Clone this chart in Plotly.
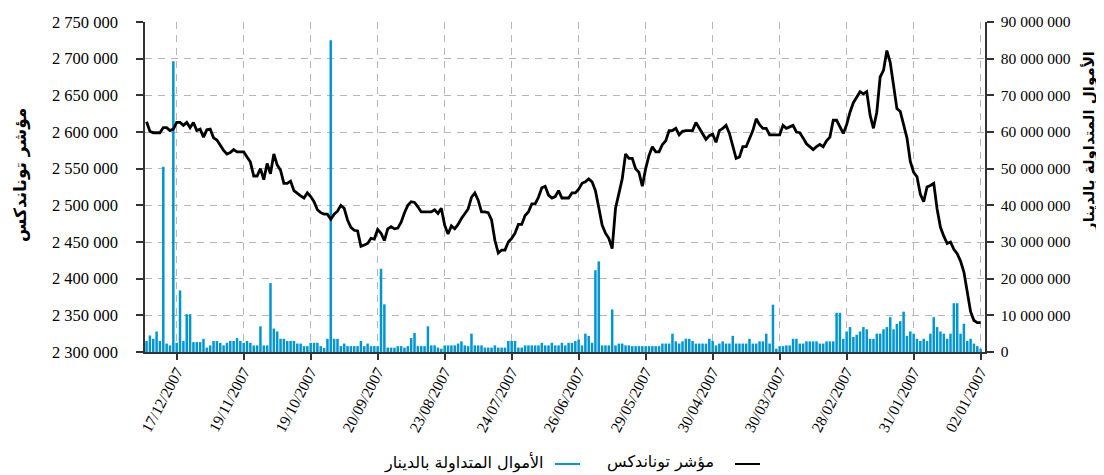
import plotly.graph_objects as go

# ---------------- data (left = most recent trading day, right = 02/01/2007) ----------------
tick_labels = ["17/12/2007", "19/11/2007", "19/10/2007", "20/09/2007", "23/08/2007", "24/07/2007",
               "26/06/2007", "29/05/2007", "30/04/2007", "30/03/2007", "28/02/2007", "31/01/2007",
               "02/01/2007"]

# TUNINDEX level, thousands
index_k = [
    2614, 2601, 2599, 2599, 2599, 2606, 2606, 2602, 2604, 2613,
    2613, 2609, 2613, 2606, 2613, 2602, 2604, 2593, 2603, 2604,
    2592, 2589, 2582, 2575, 2570, 2572, 2576, 2573, 2573, 2573,
    2566, 2559, 2540, 2540, 2550, 2535, 2557, 2543, 2570, 2555,
    2548, 2530, 2530, 2533, 2520, 2516, 2513, 2510, 2517, 2512,
    2505, 2494, 2490, 2488, 2488, 2481, 2488, 2492, 2500, 2496,
    2480, 2470, 2466, 2465, 2444, 2446, 2448, 2455, 2454, 2467,
    2462, 2452, 2468, 2471, 2468, 2469, 2477, 2490, 2500, 2505,
    2504, 2498, 2491, 2491, 2491, 2491, 2494, 2489, 2496, 2473,
    2461, 2472, 2468, 2474, 2482, 2489, 2495, 2511, 2517, 2507,
    2491, 2491, 2490, 2480, 2452, 2435, 2439, 2439, 2450, 2455,
    2462, 2474, 2474, 2486, 2491, 2502, 2502, 2511, 2524, 2526,
    2514, 2510, 2512, 2520, 2510, 2510, 2510, 2517, 2517, 2522,
    2530, 2532, 2536, 2532, 2520, 2497, 2473, 2462, 2455, 2441,
    2496, 2516, 2536, 2570, 2564, 2564, 2550, 2545, 2526, 2550,
    2568, 2580, 2573, 2573, 2583, 2588, 2602, 2602, 2605, 2596,
    2601, 2602, 2602, 2602, 2613, 2605, 2596, 2590, 2595, 2597,
    2586, 2602, 2605, 2609, 2598, 2580, 2564, 2566, 2580, 2580,
    2591, 2602, 2618, 2610, 2605, 2605, 2596, 2596, 2596, 2596,
    2609, 2605, 2607, 2609, 2600, 2599, 2592, 2584, 2580, 2576,
    2580, 2583, 2580, 2588, 2593, 2616, 2616, 2606, 2598, 2610,
    2627, 2640, 2648, 2655, 2652, 2655, 2623, 2605, 2627, 2675,
    2684, 2711, 2695, 2665, 2632, 2628, 2610, 2592, 2560, 2545,
    2539, 2515, 2505, 2525, 2527, 2530, 2495, 2470, 2458, 2448,
    2450, 2440, 2434, 2424, 2409, 2380, 2355, 2343, 2340, 2340,
]

# traded capital, millions of dinars
turnover_m = [
    3.0, 4.5, 3.6, 5.6, 3.0, 50.5, 2.3, 1.8, 79.3, 2.5,
    16.8, 3.0, 10.3, 10.3, 2.7, 2.7, 2.7, 3.6, 1.2, 1.8,
    3.0, 3.0, 2.5, 1.8, 2.5, 3.0, 3.0, 3.8, 3.0, 2.5,
    3.0, 2.5, 1.8, 1.8, 7.0, 1.8, 1.8, 18.8, 6.4, 5.6,
    3.6, 3.6, 3.0, 3.0, 3.0, 2.3, 2.3, 1.6, 1.6, 2.5,
    2.5, 2.5, 1.6, 1.1, 3.6, 85.0, 3.6, 3.6, 1.6, 2.3,
    1.6, 1.6, 1.6, 1.6, 3.0, 1.6, 2.3, 1.6, 1.6, 1.6,
    22.7, 13.0, 1.2, 1.2, 1.2, 1.6, 1.6, 1.2, 1.6, 3.8,
    5.2, 1.6, 1.6, 1.6, 7.0, 1.8, 1.8, 1.2, 0.9, 1.8,
    1.8, 1.8, 1.8, 2.3, 2.9, 1.8, 1.6, 5.0, 1.8, 1.8,
    1.8, 1.2, 1.2, 1.2, 1.8, 1.2, 1.2, 1.2, 3.0, 3.0,
    3.0, 1.2, 1.2, 1.8, 1.8, 1.8, 1.8, 1.8, 2.5, 1.8,
    1.8, 2.5, 1.8, 1.8, 2.5, 1.8, 2.5, 2.5, 3.0, 3.4,
    1.8, 5.0, 4.4, 2.5, 22.3, 24.7, 1.8, 1.8, 1.8, 11.6,
    1.8, 2.3, 2.3, 1.8, 1.8, 1.6, 1.6, 1.6, 1.6, 1.6,
    1.6, 1.6, 1.6, 1.6, 2.3, 2.3, 2.3, 5.0, 2.9, 2.3,
    2.9, 3.6, 3.6, 3.0, 2.3, 2.3, 2.3, 2.3, 3.6, 3.0,
    1.8, 2.3, 2.9, 2.3, 2.3, 4.4, 2.3, 2.3, 2.3, 2.3,
    3.6, 2.3, 2.3, 2.9, 2.9, 5.0, 2.3, 12.9, 0.9, 1.6,
    1.6, 1.8, 1.8, 3.6, 3.6, 2.3, 2.3, 2.9, 2.9, 2.9,
    2.9, 2.3, 2.3, 2.9, 2.9, 2.9, 10.7, 10.7, 3.6, 5.6,
    6.8, 4.1, 4.7, 5.6, 6.8, 6.2, 3.6, 3.6, 5.0, 5.0,
    6.2, 6.8, 9.5, 6.2, 7.7, 8.4, 11.0, 4.4, 5.6, 5.0,
    3.6, 3.0, 3.6, 3.0, 5.0, 9.5, 6.8, 5.6, 5.0, 3.6,
    5.0, 13.3, 13.3, 5.0, 7.7, 3.0, 3.6, 2.3, 1.6, 0.9,
]

name_index = "مؤشر توناندكس"
name_turnover = "الأموال المتداولة بالدينار"

# ---------------- geometry (screen pixels; page body has an 8px margin) ----------------
OFF = 8
W, H = 1104 - OFF, 475 - OFF
PLOT_L, PLOT_R, PLOT_T, PLOT_B = 145, 985, 22, 352   # target plot box on screen
ML, MT = PLOT_L - OFF, PLOT_T - OFF
PW, PH = PLOT_R - PLOT_L, PLOT_B - PLOT_T
MR, MB = W - ML - PW, H - MT - PH

def px(x):
    return (x - PLOT_L) / PW

def py(y):
    return (PLOT_B - y) / PH

days = list(range(len(index_k)))
tick_pos = [9 + 20 * k for k in range(len(tick_labels))]

BLUE = "#0096d2"
AXC = "#333333"
GRID = "#b5b5b5"
SERIF = "Liberation Serif, Times New Roman, serif"

fig = go.Figure()
fig.add_trace(go.Bar(
    x=days, y=[v * 1e6 for v in turnover_m], yaxis="y",
    marker=dict(color=BLUE, line=dict(width=0)), name=name_turnover, showlegend=False,
))
fig.add_trace(go.Scatter(
    x=days, y=[v * 1e3 for v in index_k], yaxis="y2", mode="lines",
    line=dict(color="black", width=2.8), name=name_index, showlegend=False,
))

fig.update_layout(
    width=W, height=H,
    margin=dict(l=ML, r=MR, t=MT, b=MB, pad=0),
    paper_bgcolor="white", plot_bgcolor="white",
    separators=". ",
    bargap=0.25,
    xaxis=dict(
        range=[-0.46, 250.3], tickmode="array", tickvals=tick_pos, ticktext=tick_labels,
        tickangle=-62, ticks="outside", ticklen=6, tickcolor=AXC, tickwidth=1.5,
        showline=True, linecolor=AXC, linewidth=1.5,
        showgrid=True, gridcolor=GRID, griddash="7px,6px", gridwidth=1,
        zeroline=False, tickfont=dict(family=SERIF, size=15.5, color="black"),
        ticklabelstandoff=-3, automargin=False,
    ),
    yaxis=dict(
        side="right", range=[0, 90e6], dtick=10e6, tickformat=",d",
        ticks="outside", ticklen=7, tickcolor=AXC, tickwidth=1.5,
        showline=True, linecolor=AXC, linewidth=1.5,
        showgrid=True, gridcolor=GRID, griddash="7px,6px", gridwidth=1,
        zeroline=False, tickfont=dict(family=SERIF, size=15.5, color="black"),
        ticklabelstandoff=4, automargin=False,
    ),
    yaxis2=dict(
        overlaying="y", side="left", range=[2.3e6, 2.75e6], dtick=50000, tickformat=",d",
        ticks="outside", ticklen=7, tickcolor=AXC, tickwidth=1.5,
        showline=True, linecolor=AXC, linewidth=1.5,
        showgrid=False, zeroline=False, tickfont=dict(family=SERIF, size=16.5, color="black"),
        ticklabelstandoff=15, automargin=False,
    ),
    annotations=[
        dict(text="<b>" + name_index + "</b>", xref="paper", yref="paper",
             x=px(20), y=py(175), xanchor="center", yanchor="middle", textangle=-90,
             showarrow=False, font=dict(family="DejaVu Sans", size=17, color="black")),
        dict(text="<b>" + name_turnover + "</b>", xref="paper", yref="paper",
             x=px(1089), y=py(142), xanchor="center", yanchor="middle", textangle=-90,
             showarrow=False, font=dict(family="DejaVu Sans", size=15, color="black")),
        dict(text=name_turnover, xref="paper", yref="paper",
             x=px(546), y=py(462), xanchor="right", yanchor="middle", showarrow=False,
             font=dict(family="DejaVu Sans", size=16, color="black")),
        dict(text=name_index, xref="paper", yref="paper",
             x=px(716), y=py(462), xanchor="right", yanchor="middle", showarrow=False,
             font=dict(family="DejaVu Sans", size=16, color="black")),
    ],
    shapes=[
        dict(type="line", xref="paper", yref="paper", x0=px(555), x1=px(580),
             y0=py(464), y1=py(464), line=dict(color=BLUE, width=2)),
        dict(type="line", xref="paper", yref="paper", x0=px(735), x1=px(760),
             y0=py(464), y1=py(464), line=dict(color="black", width=2)),
    ],
)

fig.write_html("out.html")
